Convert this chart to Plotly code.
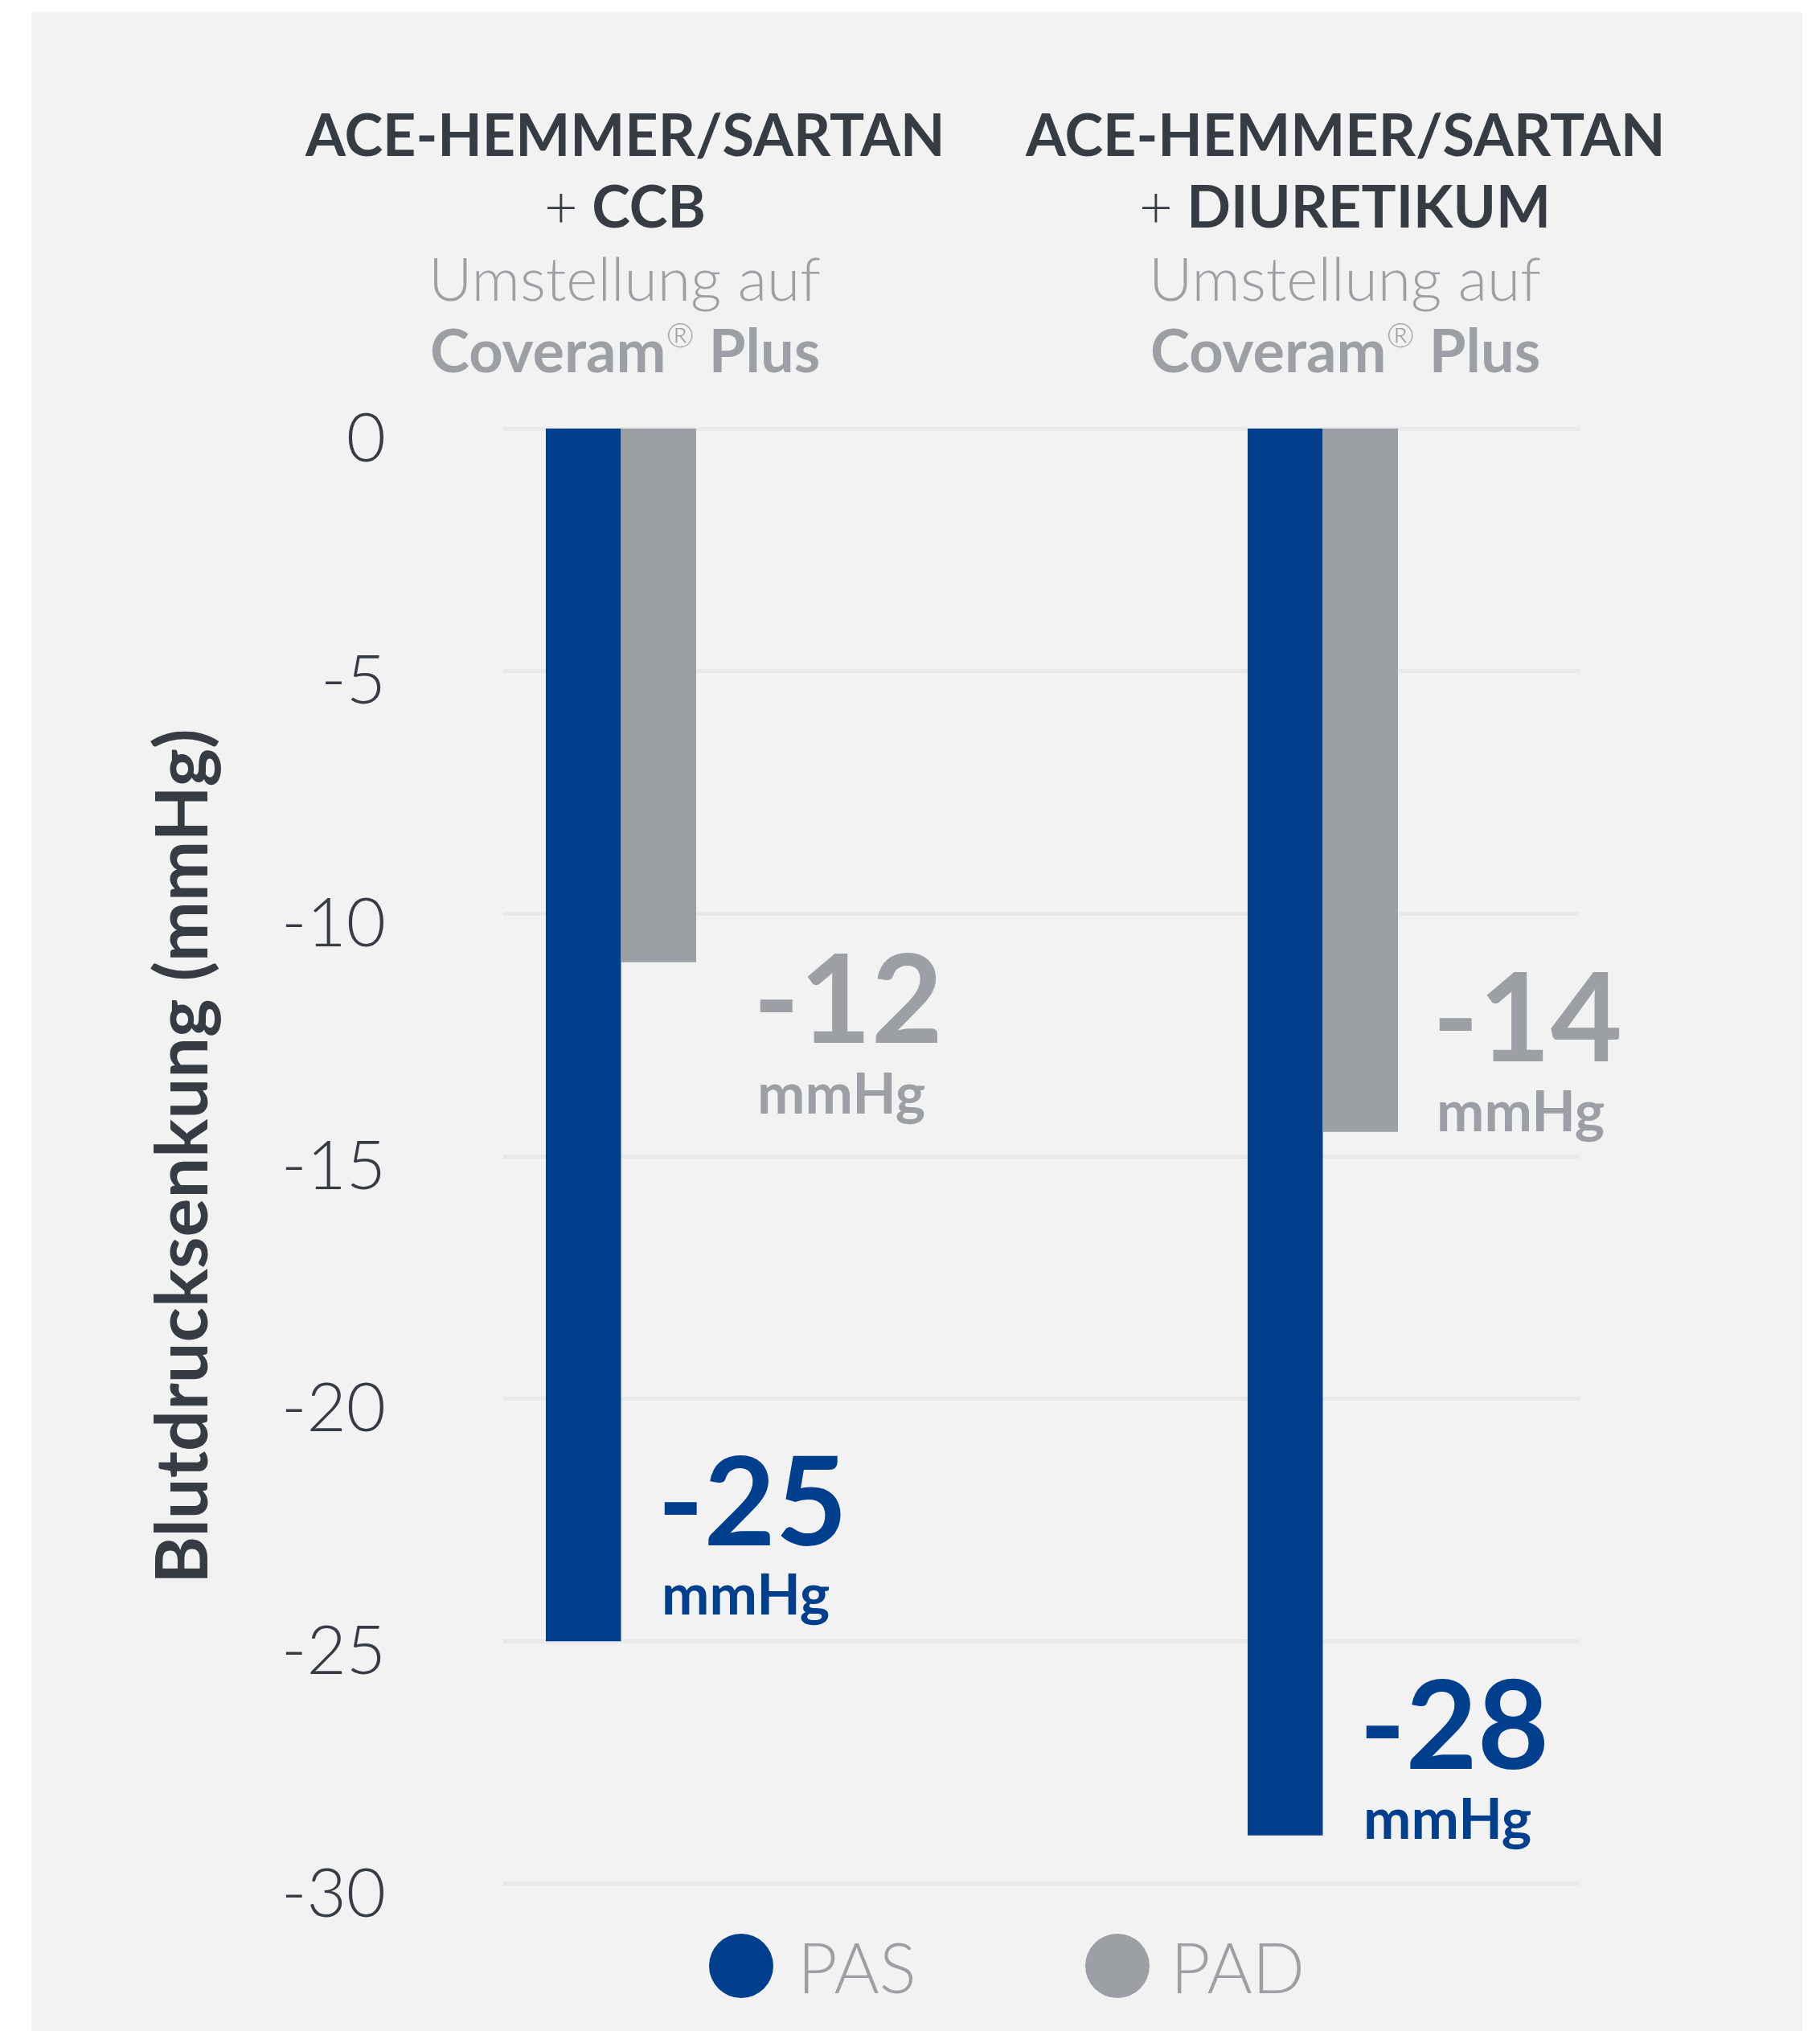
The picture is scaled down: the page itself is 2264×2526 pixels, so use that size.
import plotly.graph_objects as go

# ---------------- data ----------------
categories = ["ACE-HEMMER/SARTAN + CCB", "ACE-HEMMER/SARTAN + DIURETIKUM"]
cat_pos = [0, 1]
pas_values = [-25, -29]
pad_values = [-11, -14.5]
pas_labels = ["-25", "-28"]
pad_labels = ["-12", "-14"]
unit_label = "mmHg"
y_ticks = [0, -5, -10, -15, -20, -25, -30]
title_line1 = ["ACE-HEMMER/SARTAN", "ACE-HEMMER/SARTAN"]
title_line2 = ["CCB", "DIURETIKUM"]
subtitle_line1 = "Umstellung auf"
subtitle_line2 = "Coveram"
subtitle_line3 = "Plus"
series_names = ["PAS", "PAD"]
y_title = "Blutdrucksenkung (mmHg)"

# ---------------- style / geometry ----------------
W, H = 2264, 2526
OFF = 8                      # page body margin
Y0_PAGE, Y30_PAGE = 533, 2343
PPU = (Y30_PAGE - Y0_PAGE) / 30.0
EXT = 0.1
PLOT_TOP = Y0_PAGE - EXT * PPU
PLOT_BOT = Y30_PAGE + EXT * PPU
PLOT_LEFT, PLOT_RIGHT = 626, 1965
L = PLOT_LEFT - OFF
R = W - (PLOT_RIGHT - OFF)
T = PLOT_TOP - OFF
B = H - (PLOT_BOT - OFF)
PW = PLOT_RIGHT - PLOT_LEFT
PH = PLOT_BOT - PLOT_TOP

BLUE = "#003F8E"
GREY = "#9C9FA3"
DARK = "#363B44"
PANEL = "#F2F2F2"
GRID = "#E8E9EB"
FONT = "Lato"


def px(xp):
    return (xp - PLOT_LEFT) / PW


def py(yp):
    return (PLOT_BOT - yp) / PH


fig = go.Figure()
fig.add_trace(go.Bar(x=cat_pos, y=pas_values, name=series_names[0],
                     marker=dict(color=BLUE, line=dict(width=0))))
fig.add_trace(go.Bar(x=cat_pos, y=pad_values, name=series_names[1],
                     marker=dict(color=GREY, line=dict(width=0))))

annotations = []
# value labels (left edge, cap-centre positions in data units)
pas_lab_x = [0.050, 1.050]
pas_unit_x = [0.0555, 1.0555]
pas_lab_y = [-22.03, -26.64]
pas_unit_y = [-24.0, -28.62]
pad_lab_x = [0.1863, 1.1542]
pad_unit_x = [0.1918, 1.1597]
pad_lab_y = [-11.68, -12.06]
pad_unit_y = [-13.67, -14.03]
for i in range(2):
    for txt, xx, ux, yy, uy, col in [
        (pas_labels[i], pas_lab_x[i], pas_unit_x[i], pas_lab_y[i], pas_unit_y[i], BLUE),
        (pad_labels[i], pad_lab_x[i], pad_unit_x[i], pad_lab_y[i], pad_unit_y[i], GREY),
    ]:
        annotations.append(dict(x=xx, y=yy, xref="x", yref="y", text=txt, showarrow=False,
                                xanchor="left", yanchor="middle",
                                font=dict(family=FONT, size=154, color=col, weight=700)))
        annotations.append(dict(x=ux, y=uy, xref="x", yref="y", text=unit_label, showarrow=False,
                                xanchor="left", yanchor="middle",
                                font=dict(family=FONT, size=71, color=col, weight=700)))

# group titles (one annotation per line)
title_cx = [777, 1673]
line_y = [166, 255, 345, 434]
for i in range(2):
    lines = [
        (title_line1[i], DARK, 700, 72),
        (f"<span style='font-weight:300'>+</span> {title_line2[i]}", DARK, 700, 72),
        (subtitle_line1, GREY, 300, 75),
        (f"{subtitle_line2}<sup><span style='font-size:42px;font-weight:300'>®</span></sup> {subtitle_line3}",
         GREY, 700, 74),
    ]
    for (txt, col, wt, sz), yy in zip(lines, line_y):
        annotations.append(dict(x=px(title_cx[i]), y=py(yy), xref="paper", yref="paper", text=txt,
                                showarrow=False, xanchor="center", yanchor="middle",
                                font=dict(family=FONT, size=sz, color=col, weight=wt)))

# y-axis title
annotations.append(dict(x=px(223), y=py((Y0_PAGE + Y30_PAGE) / 2), xref="paper", yref="paper",
                        text=y_title, textangle=-90, showarrow=False,
                        xanchor="center", yanchor="middle",
                        font=dict(family=FONT, size=90, color=DARK, weight=700)))

# background panel + legend
shapes = [dict(type="rect", xref="paper", yref="paper", x0=px(39), x1=px(2242), y0=py(2540), y1=py(15),
               fillcolor=PANEL, line=dict(width=0), layer="below")]
leg_cx = [922, 1390]
leg_tx = [990, 1454]
leg_col = [BLUE, GREY]
for i in range(2):
    shapes.append(dict(type="circle", xref="paper", yref="paper",
                       x0=px(leg_cx[i] - 40), x1=px(leg_cx[i] + 40),
                       y0=py(2445 + 40), y1=py(2445 - 40),
                       fillcolor=leg_col[i], line=dict(width=0)))
    annotations.append(dict(x=px(leg_tx[i]), y=py(2446), xref="paper", yref="paper",
                            text=series_names[i], showarrow=False, xanchor="left", yanchor="middle",
                            font=dict(family=FONT, size=86, color=GREY, weight=300)))

fig.update_layout(
    width=W, height=H,
    margin=dict(l=L, r=R, t=T, b=B, pad=0),
    paper_bgcolor="white", plot_bgcolor="rgba(0,0,0,0)",
    barmode="group", bargap=0.7858, bargroupgap=0,
    showlegend=False,
    xaxis=dict(range=[-0.1678, 1.366], visible=False, fixedrange=True),
    yaxis=dict(range=[-30 - EXT, EXT], tickvals=y_ticks, ticktext=[str(v) for v in y_ticks],
               showgrid=True, gridcolor=GRID, gridwidth=5, zeroline=False, showline=False,
               ticks="", ticklabelstandoff=145, ticklabelshift=11,
               tickfont=dict(family=FONT, size=85, color=DARK, weight=300)),
    annotations=annotations, shapes=shapes,
)

fig.write_html("out.html")
